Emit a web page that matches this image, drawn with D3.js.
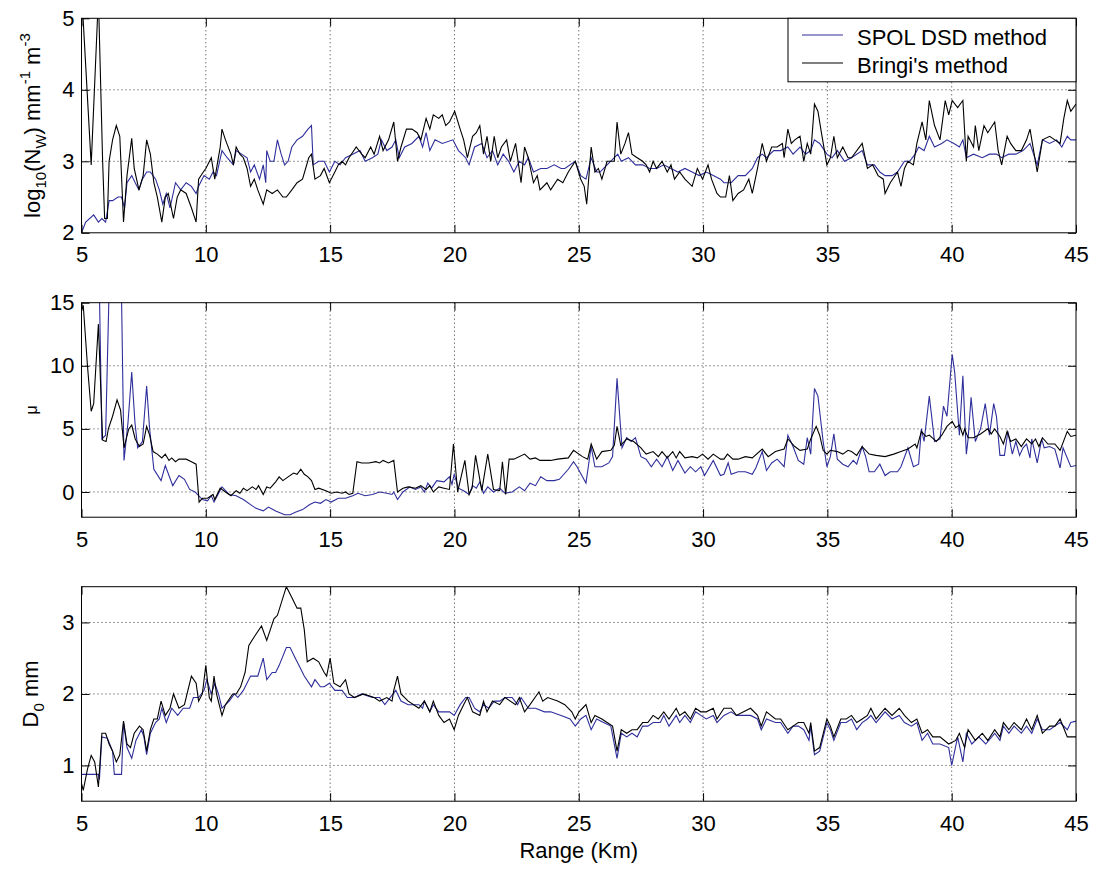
<!DOCTYPE html>
<html>
<head>
<meta charset="utf-8">
<script src="https://cdn.jsdelivr.net/npm/d3@7"></script>
<style>
  body { margin: 0; background: #fff; }
  svg { display: block; font-family: "Liberation Sans", Arial, Helvetica, sans-serif; }
</style>
</head>
<body>
<svg id="chart" width="1096" height="870"></svg>
<script>
// tick values
var rangeTicks = [5, 10, 15, 20, 25, 30, 35, 40, 45];
var nwTicks = [2, 3, 4, 5];
var muTicks = [0, 5, 10, 15];
var d0Ticks = [1, 2, 3];
var seriesNames = ["SPOL DSD method", "Bringi's method"];

// [range km, log10(Nw)]
var nwSpol = [[5.0,2.0],[5.17,2.15],[5.49,2.25],[5.68,2.15],[5.82,2.2],[5.97,2.15],[6.11,2.45],[6.25,2.45],[6.47,2.5],[6.61,2.5],[6.73,2.35],[6.83,2.7],[7.02,2.8],[7.16,2.7],[7.31,2.6],[7.45,2.75],[7.62,2.85],[7.77,2.85],[7.98,2.75],[8.13,2.6],[8.27,2.4],[8.41,2.55],[8.56,2.35],[8.78,2.7],[8.99,2.6],[9.21,2.7],[9.42,2.65],[9.61,2.55],[9.71,2.65],[9.93,2.8],[10.14,2.75],[10.29,2.85],[10.43,2.8],[10.65,3.15],[10.86,3.05],[11.11,2.95],[11.22,3.15],[11.44,3.1],[11.66,3.05],[11.8,2.85],[11.95,2.95],[12.16,2.75],[12.31,2.95],[12.41,2.7],[12.45,3.15],[12.59,3.0],[12.74,3.0],[12.88,3.3],[13.03,3.1],[13.17,2.95],[13.31,3.0],[13.46,3.2],[13.67,3.3],[13.89,3.35],[14.11,3.45],[14.25,3.5],[14.32,2.95],[14.54,3.0],[14.76,3.0],[14.97,2.85],[15.19,3.0],[15.4,2.95],[15.62,3.05],[15.91,3.1],[16.2,3.15],[16.41,3.0],[16.7,3.05],[16.92,3.1],[17.06,3.3],[17.28,3.15],[17.49,3.2],[17.64,3.3],[17.78,3.05],[18.0,3.2],[18.29,3.25],[18.57,3.35],[18.72,3.2],[18.86,3.4],[19.01,3.15],[19.22,3.3],[19.51,3.25],[19.94,3.3],[20.16,3.15],[20.45,3.05],[20.59,2.95],[20.81,3.2],[21.1,3.25],[21.31,3.05],[21.53,3.15],[21.74,2.95],[21.96,3.1],[22.18,3.0],[22.39,2.85],[22.61,3.0],[22.82,2.95],[22.97,3.05],[23.18,2.85],[23.47,2.9],[23.72,2.9],[24.01,2.95],[24.29,2.9],[24.44,2.9],[24.86,3.0],[25.08,2.8],[25.29,2.75],[25.5,3.05],[25.72,2.85],[25.86,2.85],[26.0,2.9],[26.14,2.95],[26.43,3.05],[26.57,3.1],[26.71,3.0],[27.0,3.05],[27.28,2.95],[27.57,2.95],[27.85,2.9],[28.13,2.9],[28.42,2.95],[28.71,2.9],[28.99,2.85],[29.27,2.9],[29.56,2.85],[29.84,2.8],[30.13,2.85],[30.41,2.8],[30.7,2.75],[30.84,2.7],[31.13,2.7],[31.41,2.8],[31.7,2.8],[31.98,2.9],[32.19,3.05],[32.38,3.1],[32.55,3.05],[32.84,3.15],[33.12,3.15],[33.41,3.2],[33.62,3.1],[33.9,3.2],[34.12,3.1],[34.33,3.15],[34.48,3.3],[34.69,3.25],[34.98,3.1],[35.19,3.05],[35.4,3.15],[35.69,3.0],[35.97,3.05],[36.4,3.15],[36.61,2.95],[36.89,2.95],[37.11,2.85],[37.32,2.8],[37.6,2.8],[37.82,2.85],[38.1,3.0],[38.31,3.0],[38.53,3.1],[38.67,3.2],[38.89,3.15],[39.1,3.35],[39.31,3.2],[39.6,3.25],[39.81,3.3],[40.09,3.25],[40.31,3.2],[40.45,3.3],[40.59,3.05],[40.88,3.1],[41.23,3.05],[41.52,3.1],[41.8,3.1],[42.01,3.05],[42.3,3.1],[42.58,3.1],[42.87,3.15],[43.15,3.25],[43.44,2.95],[43.65,3.3],[43.94,3.25],[44.22,3.3],[44.43,3.2],[44.65,3.35],[44.79,3.3],[45.0,3.3]];

var nwBringi = [[5.0,5.4],[5.39,2.95],[5.68,5.3],[5.85,3.0],[5.93,2.2],[6.04,2.2],[6.11,3.0],[6.25,3.3],[6.4,3.5],[6.54,3.35],[6.69,2.15],[6.83,2.8],[7.02,3.32],[7.12,2.9],[7.31,2.6],[7.48,2.8],[7.62,3.3],[7.77,3.1],[7.91,2.7],[8.05,2.5],[8.23,2.15],[8.37,2.5],[8.49,2.55],[8.7,2.2],[8.85,2.5],[8.99,2.6],[9.21,2.55],[9.42,2.35],[9.61,2.15],[9.71,2.75],[9.9,2.85],[10.0,2.9],[10.22,3.05],[10.36,2.75],[10.48,3.0],[10.58,3.2],[10.65,3.45],[10.79,3.3],[11.01,3.1],[11.11,2.95],[11.22,3.2],[11.37,3.1],[11.51,3.05],[11.66,2.9],[11.8,2.65],[11.95,2.75],[12.09,2.6],[12.31,2.4],[12.45,2.6],[12.67,2.55],[12.88,2.6],[13.1,2.5],[13.24,2.5],[13.46,2.6],[13.67,2.7],[13.89,2.75],[14.14,3.05],[14.25,3.1],[14.39,2.75],[14.61,2.8],[14.76,2.9],[14.97,2.7],[15.19,2.85],[15.33,2.95],[15.48,3.0],[15.62,2.95],[15.76,3.05],[16.05,3.2],[16.27,3.1],[16.41,3.05],[16.63,3.2],[16.77,3.1],[16.99,3.35],[17.13,3.15],[17.35,3.3],[17.56,3.55],[17.71,3.0],[17.85,3.2],[18.07,3.45],[18.29,3.45],[18.5,3.4],[18.65,3.3],[18.86,3.6],[19.01,3.45],[19.15,3.65],[19.37,3.6],[19.51,3.65],[19.65,3.5],[19.8,3.55],[20.01,3.7],[20.23,3.45],[20.37,3.3],[20.52,3.05],[20.73,3.35],[20.88,3.4],[21.02,3.5],[21.17,3.1],[21.31,3.35],[21.46,3.0],[21.6,3.35],[21.74,3.05],[21.89,3.2],[22.1,3.3],[22.25,3.0],[22.46,3.25],[22.68,2.7],[22.82,3.2],[22.97,3.05],[23.18,2.7],[23.33,2.8],[23.44,2.6],[23.72,2.7],[23.87,2.6],[24.15,2.75],[24.36,2.7],[24.58,2.85],[24.86,3.0],[25.08,2.75],[25.22,2.65],[25.32,2.4],[25.5,3.2],[25.65,2.85],[25.79,2.9],[25.93,2.75],[26.14,3.0],[26.29,3.0],[26.43,3.0],[26.54,3.55],[26.69,3.1],[26.86,3.25],[27.0,3.4],[27.14,3.1],[27.35,3.05],[27.57,3.0],[27.71,2.95],[27.85,2.85],[27.99,3.0],[28.13,2.9],[28.35,3.0],[28.56,2.85],[28.71,2.95],[28.85,2.75],[29.06,2.85],[29.27,2.75],[29.56,2.65],[29.77,2.9],[29.98,2.75],[30.2,2.95],[30.34,2.75],[30.56,2.55],[30.7,2.5],[30.91,2.5],[31.06,2.8],[31.2,2.45],[31.41,2.55],[31.63,2.6],[31.84,2.75],[31.98,2.55],[32.19,2.9],[32.38,3.25],[32.55,3.0],[32.76,3.2],[32.98,3.2],[33.19,3.25],[33.26,3.05],[33.41,3.45],[33.55,3.25],[33.69,3.3],[33.9,3.35],[34.05,3.0],[34.19,3.25],[34.33,3.1],[34.48,3.8],[34.62,3.7],[34.76,3.4],[34.98,2.95],[35.12,3.05],[35.26,3.35],[35.4,3.05],[35.62,3.2],[35.83,3.05],[35.97,3.05],[36.4,3.25],[36.61,2.9],[36.82,2.95],[37.04,2.8],[37.25,2.75],[37.32,2.55],[37.53,2.7],[37.82,2.85],[37.96,2.65],[38.1,2.9],[38.24,3.0],[38.46,2.95],[38.6,3.25],[38.81,3.55],[38.96,3.3],[39.1,3.85],[39.31,3.5],[39.53,3.3],[39.74,3.85],[39.88,3.65],[40.02,3.85],[40.24,3.75],[40.45,3.85],[40.59,3.0],[40.66,3.35],[40.88,3.2],[40.95,3.5],[41.09,3.15],[41.3,3.5],[41.45,3.4],[41.73,3.55],[41.87,3.15],[42.01,2.95],[42.23,3.35],[42.37,3.25],[42.58,3.15],[42.8,3.15],[43.01,3.3],[43.15,3.45],[43.44,2.85],[43.65,3.3],[43.94,3.35],[44.15,3.3],[44.36,3.25],[44.51,3.6],[44.65,3.85],[44.79,3.7],[45.0,3.8]];

// [range km, mu]
var muSpol = [[5.0,22],[5.6,22],[5.72,16],[5.82,4.2],[5.97,4.5],[6.11,16],[6.25,20],[6.54,20],[6.61,15.5],[6.71,2.5],[6.87,5.5],[7.02,9.5],[7.15,5.5],[7.26,3.5],[7.45,4.0],[7.62,8.4],[7.74,5.0],[7.91,1.8],[8.2,0.9],[8.37,2.1],[8.67,0.5],[8.92,1.3],[9.14,1.0],[9.35,0.2],[9.57,0.0],[9.86,-0.6],[10.07,-0.7],[10.22,-0.3],[10.33,-0.8],[10.65,0.4],[10.94,-0.2],[11.22,-0.3],[11.51,-0.6],[11.8,-1.0],[12.02,-1.3],[12.31,-1.5],[12.52,-1.2],[12.81,-1.5],[13.17,-1.8],[13.39,-1.8],[13.6,-1.6],[13.89,-1.4],[14.18,-1.0],[14.39,-0.8],[14.61,-0.9],[14.83,-0.6],[15.04,-0.8],[15.33,-0.5],[15.62,-0.5],[15.91,-0.3],[16.12,-0.1],[16.41,-0.3],[16.7,-0.2],[16.99,0.0],[17.28,-0.1],[17.49,-0.2],[17.56,0.0],[17.71,-0.6],[17.93,0.0],[18.21,0.4],[18.43,0.2],[18.65,0.4],[18.79,0.0],[18.93,0.7],[19.08,0.3],[19.29,0.9],[19.58,0.8],[19.8,1.2],[19.9,0.6],[19.99,1.4],[20.16,0.3],[20.37,0.1],[20.59,-0.2],[20.73,0.5],[20.88,0.3],[21.02,0.8],[21.17,-0.1],[21.34,0.4],[21.57,0.0],[21.82,0.3],[22.03,-0.1],[22.32,0.0],[22.61,0.4],[22.82,0.1],[23.04,0.7],[23.26,0.5],[23.47,1.2],[23.72,0.9],[24.01,0.9],[24.22,1.0],[24.58,1.8],[24.79,2.4],[24.93,2.0],[25.15,1.2],[25.29,0.7],[25.5,3.6],[25.65,2.0],[25.93,2.0],[26.21,2.3],[26.36,2.8],[26.54,9.0],[26.74,3.5],[26.93,4.3],[27.11,4.0],[27.28,4.3],[27.5,2.8],[27.71,2.6],[27.92,2.0],[28.13,2.6],[28.35,2.0],[28.56,2.8],[28.78,1.7],[28.99,2.5],[29.27,1.5],[29.49,2.0],[29.7,1.6],[29.91,2.0],[30.06,1.3],[30.41,2.5],[30.7,1.3],[30.84,1.4],[31.01,2.3],[31.13,1.4],[31.41,1.6],[31.7,1.6],[31.98,1.4],[32.12,1.9],[32.38,3.2],[32.55,1.7],[32.76,2.3],[32.98,2.6],[33.26,2.0],[33.41,4.5],[33.62,3.6],[33.83,2.5],[34.05,2.2],[34.19,4.3],[34.33,3.0],[34.48,8.2],[34.62,7.6],[34.83,4.0],[34.98,2.0],[35.12,2.8],[35.26,4.6],[35.4,2.6],[35.62,2.2],[35.83,2.0],[36.04,2.5],[36.18,2.2],[36.4,3.6],[36.54,2.8],[36.68,1.6],[36.89,1.6],[37.11,2.2],[37.32,1.3],[37.53,1.6],[37.82,1.6],[37.96,2.0],[38.24,3.5],[38.46,2.0],[38.67,2.2],[38.78,5.0],[38.89,4.0],[39.1,7.6],[39.31,4.0],[39.53,4.2],[39.67,6.8],[39.81,6.0],[40.02,10.9],[40.12,9.5],[40.31,4.5],[40.45,9.2],[40.59,3.0],[40.66,4.2],[40.78,7.5],[40.95,4.0],[41.16,5.0],[41.35,7.0],[41.52,4.5],[41.69,7.0],[41.8,6.0],[41.94,2.9],[42.12,2.9],[42.26,4.8],[42.44,3.0],[42.58,4.0],[42.73,2.9],[42.87,3.5],[43.01,3.8],[43.15,2.7],[43.22,4.2],[43.44,2.3],[43.62,4.2],[43.72,3.5],[43.94,3.6],[44.15,3.4],[44.36,1.9],[44.48,3.5],[44.79,2.0],[45.0,2.1]];

var muBringi = [[5.03,14.5],[5.07,14.8],[5.24,10.0],[5.39,6.4],[5.49,7.0],[5.58,10.0],[5.68,13.3],[5.85,4.1],[5.99,4.0],[6.08,5.0],[6.25,6.0],[6.43,7.3],[6.57,6.5],[6.71,3.5],[6.9,5.0],[7.02,5.3],[7.16,4.2],[7.33,3.6],[7.48,3.8],[7.62,5.2],[7.74,4.5],[7.88,3.2],[8.05,3.0],[8.23,2.7],[8.37,3.0],[8.52,2.5],[8.63,2.7],[8.78,2.4],[8.92,2.6],[9.21,2.6],[9.42,2.4],[9.61,2.2],[9.73,-0.8],[9.86,-0.5],[10.07,-0.5],[10.29,-0.2],[10.36,-0.6],[10.58,0.3],[10.79,0.0],[11.01,-0.3],[11.22,0.1],[11.37,-0.1],[11.51,0.3],[11.66,0.1],[11.87,0.4],[12.02,0.2],[12.12,0.5],[12.31,-0.2],[12.45,0.4],[12.59,0.3],[12.81,0.8],[12.95,1.2],[13.1,0.9],[13.31,1.2],[13.53,1.5],[13.67,1.4],[13.82,1.8],[13.96,1.4],[14.11,1.2],[14.25,0.9],[14.39,0.2],[14.54,0.3],[14.83,0.1],[15.04,-0.1],[15.26,0.0],[15.48,-0.1],[15.62,0.0],[15.76,-0.2],[15.91,-0.1],[16.08,2.4],[16.27,2.3],[16.56,2.3],[16.84,2.4],[16.99,2.3],[17.13,2.5],[17.35,2.3],[17.56,2.5],[17.71,0.0],[17.93,0.3],[18.14,0.4],[18.43,0.3],[18.65,0.5],[18.86,0.2],[19.01,0.5],[19.15,0.0],[19.37,0.4],[19.58,0.3],[19.8,0.2],[19.96,3.8],[20.13,0.0],[20.42,2.5],[20.59,-0.2],[20.71,0.3],[20.85,2.9],[21.1,0.1],[21.34,3.0],[21.57,0.2],[21.82,0.1],[21.93,2.4],[22.06,-0.2],[22.2,2.6],[22.39,2.6],[22.82,3.0],[23.04,2.6],[23.26,2.7],[23.44,2.5],[23.87,2.5],[24.15,2.6],[24.58,2.7],[24.79,3.3],[25.15,2.8],[25.36,2.6],[25.5,3.8],[25.72,2.6],[25.93,3.2],[26.29,3.3],[26.43,3.7],[26.54,5.2],[26.69,3.7],[26.93,4.2],[27.21,4.0],[27.5,3.5],[27.71,3.0],[27.99,3.2],[28.2,2.8],[28.35,3.2],[28.56,2.7],[28.78,3.2],[28.92,2.7],[29.06,3.2],[29.27,2.7],[29.56,2.8],[29.77,2.7],[29.98,3.0],[30.2,2.6],[30.41,3.0],[30.7,2.6],[30.84,2.6],[30.98,3.0],[31.2,2.6],[31.41,2.6],[31.7,2.8],[31.98,2.7],[32.38,3.4],[32.62,2.8],[32.91,3.2],[33.26,3.4],[33.41,4.2],[33.69,3.6],[33.9,3.3],[34.19,3.4],[34.33,4.2],[34.55,5.2],[34.69,4.5],[34.83,3.3],[34.98,3.0],[35.12,3.3],[35.4,3.2],[35.62,3.0],[35.83,3.3],[35.97,3.2],[36.18,2.9],[36.4,3.6],[36.68,3.0],[36.96,2.9],[37.32,2.8],[37.67,3.0],[37.96,3.2],[38.24,3.4],[38.53,3.8],[38.6,3.5],[38.78,4.8],[38.96,4.4],[39.1,4.5],[39.38,4.0],[39.6,4.5],[39.81,5.2],[40.02,5.6],[40.16,5.1],[40.31,5.3],[40.45,4.5],[40.52,5.0],[40.66,4.3],[40.88,4.3],[41.16,4.6],[41.45,5.0],[41.59,4.6],[41.73,5.0],[41.94,4.4],[42.08,3.8],[42.23,4.8],[42.37,4.0],[42.58,4.2],[42.8,3.6],[43.01,4.2],[43.22,3.8],[43.37,4.2],[43.51,3.6],[43.65,4.3],[43.87,3.8],[44.15,3.8],[44.36,3.3],[44.65,4.8],[44.79,4.4],[45.0,4.5]];

// [range km, D0 mm]
var d0Spol = [[5.0,0.875],[5.68,0.875],[5.72,0.8],[5.82,1.4],[6.04,1.38],[6.25,1.2],[6.32,0.875],[6.61,0.875],[6.69,1.6],[6.83,1.25],[7.02,1.1],[7.19,1.35],[7.41,1.5],[7.51,1.4],[7.62,1.15],[7.77,1.45],[7.98,1.6],[8.13,1.65],[8.23,1.8],[8.41,1.6],[8.63,1.8],[8.87,1.7],[9.09,1.8],[9.35,1.8],[9.5,1.95],[9.71,1.95],[9.93,2.05],[10.04,2.2],[10.22,2.0],[10.36,2.15],[10.51,2.0],[10.65,1.8],[10.94,1.9],[11.15,2.0],[11.29,1.95],[11.51,2.05],[11.8,2.25],[12.09,2.25],[12.31,2.5],[12.45,2.2],[12.67,2.3],[12.81,2.3],[12.95,2.4],[13.24,2.65],[13.39,2.65],[13.6,2.5],[13.82,2.35],[13.96,2.25],[14.25,2.1],[14.39,2.2],[14.61,2.1],[14.76,2.1],[14.97,2.15],[15.19,2.05],[15.48,2.05],[15.69,1.95],[15.98,1.95],[16.27,2.0],[16.7,1.95],[16.99,1.95],[17.2,1.85],[17.64,2.05],[17.85,1.9],[18.14,1.85],[18.57,1.85],[18.72,1.8],[18.79,1.9],[19.01,1.75],[19.15,1.85],[19.37,1.75],[19.65,1.75],[19.8,1.75],[19.99,1.7],[20.23,1.85],[20.45,1.95],[20.59,1.95],[20.81,1.8],[21.02,1.75],[21.17,1.85],[21.38,1.8],[21.6,1.9],[21.82,1.9],[22.03,1.95],[22.32,1.95],[22.54,1.85],[22.68,1.95],[22.97,1.8],[23.26,1.8],[23.62,1.75],[23.87,1.75],[24.29,1.7],[24.65,1.65],[24.86,1.55],[25.08,1.65],[25.29,1.7],[25.5,1.5],[25.72,1.65],[26.0,1.6],[26.29,1.55],[26.54,1.1],[26.71,1.45],[26.93,1.4],[27.14,1.45],[27.35,1.4],[27.57,1.55],[27.78,1.55],[27.99,1.6],[28.28,1.6],[28.42,1.7],[28.63,1.55],[28.92,1.7],[29.06,1.6],[29.27,1.7],[29.49,1.6],[29.7,1.75],[29.91,1.7],[30.13,1.65],[30.41,1.7],[30.56,1.6],[30.84,1.7],[31.13,1.75],[31.34,1.7],[31.63,1.7],[31.91,1.7],[32.19,1.65],[32.34,1.5],[32.55,1.65],[32.91,1.6],[33.12,1.6],[33.41,1.45],[33.62,1.55],[33.83,1.55],[34.05,1.5],[34.26,1.35],[34.33,1.55],[34.48,1.15],[34.69,1.2],[34.98,1.6],[35.12,1.5],[35.26,1.35],[35.54,1.6],[35.76,1.6],[35.97,1.65],[36.18,1.5],[36.4,1.6],[36.61,1.65],[36.75,1.7],[36.96,1.6],[37.32,1.75],[37.6,1.65],[37.89,1.7],[38.1,1.6],[38.38,1.55],[38.6,1.6],[38.81,1.35],[39.03,1.45],[39.24,1.3],[39.53,1.3],[39.88,1.25],[40.0,1.0],[40.24,1.4],[40.45,1.05],[40.59,1.45],[40.81,1.3],[41.09,1.4],[41.37,1.3],[41.73,1.45],[41.94,1.35],[42.08,1.55],[42.3,1.45],[42.51,1.55],[42.8,1.45],[43.01,1.55],[43.22,1.45],[43.44,1.65],[43.65,1.5],[43.94,1.5],[44.15,1.55],[44.36,1.6],[44.65,1.5],[44.79,1.6],[45.0,1.62]];

var d0Bringi = [[5.0,0.75],[5.07,0.65],[5.24,0.95],[5.39,1.14],[5.53,1.05],[5.68,0.7],[5.82,1.45],[5.97,1.45],[6.11,1.3],[6.25,1.2],[6.4,1.05],[6.54,1.15],[6.69,1.62],[6.83,1.3],[6.97,1.25],[7.12,1.45],[7.33,1.55],[7.48,1.5],[7.62,1.2],[7.77,1.5],[7.91,1.65],[8.05,1.65],[8.2,1.9],[8.37,1.7],[8.56,1.8],[8.7,2.0],[8.92,1.8],[9.14,1.85],[9.42,2.25],[9.61,2.15],[9.71,1.9],[9.86,2.0],[10.0,2.4],[10.14,1.95],[10.22,1.9],[10.33,2.25],[10.43,2.0],[10.65,1.7],[10.79,1.85],[11.08,2.0],[11.22,2.0],[11.4,2.1],[11.58,2.3],[11.73,2.68],[11.95,2.8],[12.24,2.95],[12.45,2.75],[12.74,3.05],[12.88,3.1],[13.24,3.5],[13.46,3.35],[13.67,3.2],[13.82,3.2],[13.96,2.9],[14.08,2.45],[14.32,2.5],[14.54,2.45],[14.76,2.3],[14.86,2.25],[15.0,2.5],[15.15,2.15],[15.4,2.1],[15.62,2.2],[15.76,2.0],[15.98,1.95],[16.34,2.0],[16.77,1.95],[16.99,1.9],[17.28,1.95],[17.49,1.9],[17.56,2.05],[17.71,2.25],[17.85,2.0],[18.14,1.9],[18.36,1.85],[18.57,1.8],[18.79,1.9],[19.01,1.75],[19.15,1.9],[19.37,1.7],[19.58,1.6],[19.8,1.65],[19.99,1.5],[20.16,1.7],[20.37,1.85],[20.52,1.95],[20.73,1.75],[21.02,1.7],[21.17,1.9],[21.31,1.75],[21.53,1.9],[21.82,1.85],[22.03,1.95],[22.46,1.85],[22.61,1.95],[22.82,1.75],[23.04,1.85],[23.4,2.03],[23.55,1.9],[23.75,1.95],[24.15,1.9],[24.44,1.85],[24.72,1.75],[24.86,1.65],[25.01,1.75],[25.15,1.8],[25.29,1.85],[25.5,1.6],[25.65,1.7],[25.93,1.65],[26.14,1.6],[26.36,1.55],[26.54,1.2],[26.71,1.5],[26.93,1.45],[27.14,1.5],[27.35,1.5],[27.57,1.6],[27.78,1.6],[27.99,1.7],[28.2,1.65],[28.42,1.75],[28.63,1.65],[28.92,1.8],[29.06,1.7],[29.27,1.75],[29.49,1.65],[29.7,1.8],[29.91,1.75],[30.13,1.75],[30.41,1.8],[30.56,1.65],[30.84,1.8],[31.13,1.8],[31.34,1.7],[31.63,1.75],[31.91,1.8],[32.19,1.7],[32.34,1.55],[32.55,1.75],[32.91,1.65],[33.12,1.65],[33.41,1.5],[33.62,1.55],[33.83,1.6],[34.05,1.6],[34.26,1.45],[34.33,1.6],[34.48,1.2],[34.69,1.25],[34.98,1.65],[35.12,1.55],[35.26,1.4],[35.54,1.65],[35.76,1.65],[35.97,1.7],[36.18,1.6],[36.4,1.65],[36.61,1.7],[36.75,1.8],[36.96,1.65],[37.32,1.8],[37.6,1.7],[37.89,1.8],[38.1,1.7],[38.38,1.6],[38.6,1.65],[38.81,1.45],[39.03,1.5],[39.24,1.4],[39.53,1.4],[39.88,1.3],[40.16,1.35],[40.31,1.45],[40.52,1.25],[40.66,1.5],[40.95,1.35],[41.23,1.45],[41.45,1.35],[41.73,1.5],[41.94,1.4],[42.08,1.6],[42.3,1.5],[42.51,1.6],[42.8,1.5],[43.01,1.65],[43.22,1.5],[43.44,1.7],[43.65,1.45],[43.94,1.55],[44.15,1.55],[44.36,1.65],[44.65,1.4],[45.0,1.4]];

var svg = d3.select("#chart"),
  margin = { left: 81.5, right: 20 },
  width = +svg.attr("width"),
  panelH = 214.5,
  blue = "#2e2e9c",
  font = 22;

var x = d3.scaleLinear().domain([5, 45]).range([margin.left, width - margin.right]);

var panels = [
  { top: 18.3, domain: [2, 5], ticks: nwTicks, spol: nwSpol, bringi: nwBringi },
  { top: 302.7, domain: [-2, 15], ticks: muTicks, spol: muSpol, bringi: muBringi },
  { top: 586.7, domain: [0.5, 3.5], ticks: d0Ticks, spol: d0Spol, bringi: d0Bringi }
];

panels.forEach(function(p, i) {
  var y = d3.scaleLinear().domain(p.domain).range([p.top + panelH, p.top]);
  var g = svg.append("g");

  // clip so spikes stop at the frame like matlab
  svg.append("clipPath")
    .attr("id", "clip" + i)
    .append("rect")
    .attr("x", x.range()[0])
    .attr("y", p.top)
    .attr("width", x.range()[1] - x.range()[0])
    .attr("height", panelH);

  // dotted grid
  g.selectAll(".vgrid")
    .data(rangeTicks.slice(1, -1))
    .enter()
    .append("line")
    .attr("x1", d => x(d)).attr("x2", d => x(d))
    .attr("y1", p.top).attr("y2", p.top + panelH)
    .attr("stroke", "#000")
    .attr("stroke-width", 0.8)
    .attr("stroke-dasharray", "1,3");

  g.selectAll(".hgrid")
    .data(p.ticks.filter(t => t > p.domain[0] && t < p.domain[1]))
    .enter()
    .append("line")
    .attr("x1", x.range()[0]).attr("x2", x.range()[1])
    .attr("y1", d => y(d)).attr("y2", d => y(d))
    .attr("stroke", "#000")
    .attr("stroke-width", 0.8)
    .attr("stroke-dasharray", "1,3");

  var line = d3.line().x(d => x(d[0])).y(d => y(d[1]));

  var lines = g.append("g").attr("clip-path", "url(#clip" + i + ")");
  lines.append("path")
    .datum(p.spol)
    .attr("fill", "none")
    .attr("stroke", blue)
    .attr("stroke-width", 1.1)
    .attr("d", line);
  lines.append("path")
    .datum(p.bringi)
    .attr("fill", "none")
    .attr("stroke", "#000")
    .attr("stroke-width", 1.1)
    .attr("d", line);

  // axes, ticks pointing inward
  g.append("g")
    .attr("transform", "translate(0," + (p.top + panelH) + ")")
    .call(d3.axisBottom(x).tickValues(rangeTicks).tickFormat(d3.format("d"))
      .tickSizeInner(-8).tickSizeOuter(0).tickPadding(14));
  g.append("g")
    .attr("transform", "translate(0," + p.top + ")")
    .call(d3.axisTop(x).tickValues(rangeTicks).tickSizeInner(-8).tickSizeOuter(0).tickFormat(""));
  g.append("g")
    .attr("transform", "translate(" + x.range()[0] + ",0)")
    .call(d3.axisLeft(y).tickValues(p.ticks).tickFormat(d3.format("d"))
      .tickSizeInner(-8).tickSizeOuter(0).tickPadding(7));
  g.append("g")
    .attr("transform", "translate(" + x.range()[1] + ",0)")
    .call(d3.axisRight(y).tickValues(p.ticks).tickSizeInner(-8).tickSizeOuter(0).tickFormat(""));

  g.selectAll(".domain").remove();
  g.selectAll(".tick line").attr("stroke", "#000");
  g.selectAll("g").attr("font-family", null).attr("font-size", font);
  g.selectAll(".tick text").attr("fill", "#000");

  // frame
  g.append("rect")
    .attr("x", x.range()[0])
    .attr("y", p.top)
    .attr("width", x.range()[1] - x.range()[0])
    .attr("height", panelH)
    .attr("fill", "none")
    .attr("stroke", "#000")
    .attr("stroke-width", 1);
});

// y labels
var lab1 = svg.append("text")
  .attr("transform", "translate(40," + (panels[0].top + panelH / 2) + ") rotate(-90)")
  .attr("text-anchor", "middle")
  .attr("font-size", 22);
lab1.append("tspan").text("log");
lab1.append("tspan").attr("font-size", 15).attr("dy", 6).text("10");
lab1.append("tspan").attr("dy", -6).text("(N");
lab1.append("tspan").attr("font-size", 15).attr("dy", 6).text("W");
lab1.append("tspan").attr("dy", -6).text(") mm");
lab1.append("tspan").attr("font-size", 15).attr("dy", -10).text("-1");
lab1.append("tspan").attr("dy", 10).text(" m");
lab1.append("tspan").attr("font-size", 15).attr("dy", -10).text("-3");

svg.append("text")
  .attr("transform", "translate(37," + (panels[1].top + panelH / 2) + ") rotate(-90)")
  .attr("text-anchor", "middle")
  .attr("font-size", 16)
  .text("μ");

var lab3 = svg.append("text")
  .attr("transform", "translate(38," + (panels[2].top + panelH / 2) + ") rotate(-90)")
  .attr("text-anchor", "middle")
  .attr("font-size", 22);
lab3.append("tspan").text("D");
lab3.append("tspan").attr("font-size", 15).attr("dy", 6).text("0");
lab3.append("tspan").attr("dy", -6).text(" mm");

svg.append("text")
  .attr("x", (x.range()[0] + x.range()[1]) / 2)
  .attr("y", 858)
  .attr("text-anchor", "middle")
  .attr("font-size", 22)
  .text("Range (Km)");

// legend
var legend = svg.append("g");
legend.append("rect")
  .attr("x", 788)
  .attr("y", panels[0].top)
  .attr("width", x.range()[1] - 788)
  .attr("height", 63.5)
  .attr("fill", "#fff")
  .attr("stroke", "#000");

var item = legend.selectAll(".item")
  .data(seriesNames)
  .enter()
  .append("g")
  .attr("transform", (d, i) => "translate(0," + (35 + i * 28) + ")");
item.append("line")
  .attr("x1", 802).attr("x2", 843)
  .attr("stroke", (d, i) => i == 0 ? blue : "#000")
  .attr("stroke-width", 1.1);
item.append("text")
  .attr("x", 857)
  .attr("y", 9.5)
  .attr("font-size", 22)
  .text(d => d);
</script>
</body>
</html>
